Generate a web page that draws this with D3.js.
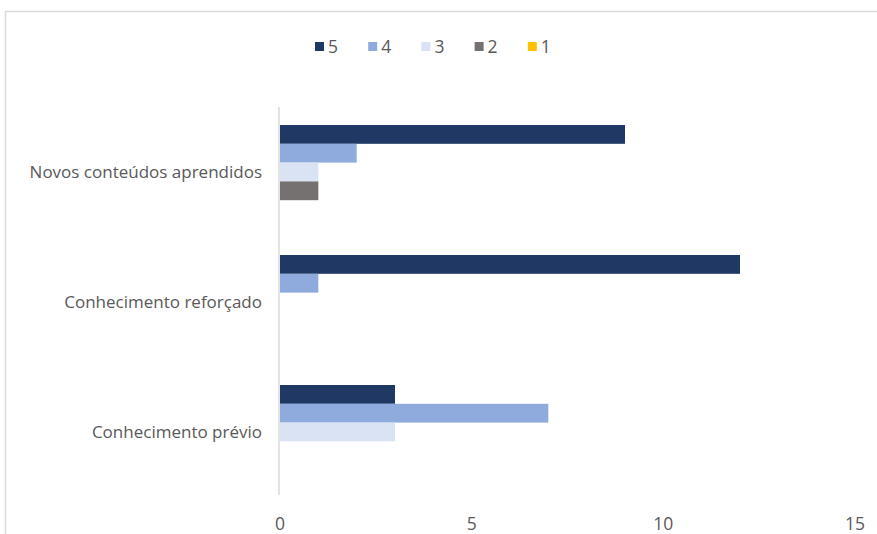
<!DOCTYPE html>
<html><head><meta charset="utf-8">
<script src="https://cdn.jsdelivr.net/npm/d3@7"></script>
<style>
html,body{margin:0;padding:0;background:#fff;}
svg{display:block;}
text{font-family:"Open Sans","Noto Sans",sans-serif;fill:#595959;}
</style></head>
<body><svg id="c" width="877" height="534"></svg>
<script>
const categories = ["Novos conteúdos aprendidos", "Conhecimento reforçado", "Conhecimento prévio"];
const seriesNames = ["5", "4", "3", "2", "1"];
const seriesColors = ["#203864", "#8faadc", "#dae3f3", "#767171", "#ffc000"];
const s5 = [9, 12, 3];
const s4 = [2, 1, 7];
const s3 = [1, 0, 3];
const s2 = [1, 0, 0];
const s1 = [0, 0, 0];
const xTicks = [0, 5, 10, 15];

const seriesValues = [s5, s4, s3, s2, s1];
const svg = d3.select("#c");

// outer chart border (partially visible)
svg.append("rect").attr("x", 5.5).attr("y", 11.5).attr("width", 900).attr("height", 600)
  .attr("fill", "none").attr("stroke", "#d9d9d9").attr("stroke-width", 1.5);

const x = d3.scaleLinear().domain([0, 15]).range([280, 855]);
const y0 = d3.scaleBand().domain(categories).range([107, 497]).paddingInner(0.277).paddingOuter(0.1385);
const y1 = d3.scaleBand().domain(seriesNames).range([0, y0.bandwidth()]);

// category axis line
svg.append("line").attr("x1", x(0) - 1).attr("x2", x(0) - 1).attr("y1", 107).attr("y2", 495)
  .attr("stroke", "#d9d9d9").attr("stroke-width", 1.5);

const g = svg.append("g");
seriesNames.forEach((s, si) => {
  g.selectAll(null).data(categories).enter().append("rect")
    .attr("x", x(0))
    .attr("y", c => y0(c) + y1(s))
    .attr("width", (c, ci) => x(seriesValues[si][ci]) - x(0))
    .attr("height", y1.bandwidth())
    .attr("fill", seriesColors[si]);
});

// category labels
svg.selectAll(".cat").data(categories).enter().append("text")
  .attr("x", 262).attr("y", c => y0(c) + y0.bandwidth() / 2)
  .attr("dy", "0.35em").attr("text-anchor", "end").attr("font-size", 17)
  .text(c => c);

// x tick labels
svg.selectAll(".xt").data(xTicks).enter().append("text")
  .attr("x", d => x(d)).attr("y", 530).attr("text-anchor", "middle").attr("font-size", 17.5)
  .text(d => d);

// legend
const lg = svg.append("g");
seriesNames.forEach((s, i) => {
  const lx = 315 + i * 53.2;
  lg.append("rect").attr("x", lx).attr("y", 42).attr("width", 9).attr("height", 9).attr("fill", seriesColors[i]);
  lg.append("text").attr("x", lx + 13).attr("y", 47).attr("dy", "0.36em").attr("font-size", 17.5).text(s);
});
</script></body></html>
